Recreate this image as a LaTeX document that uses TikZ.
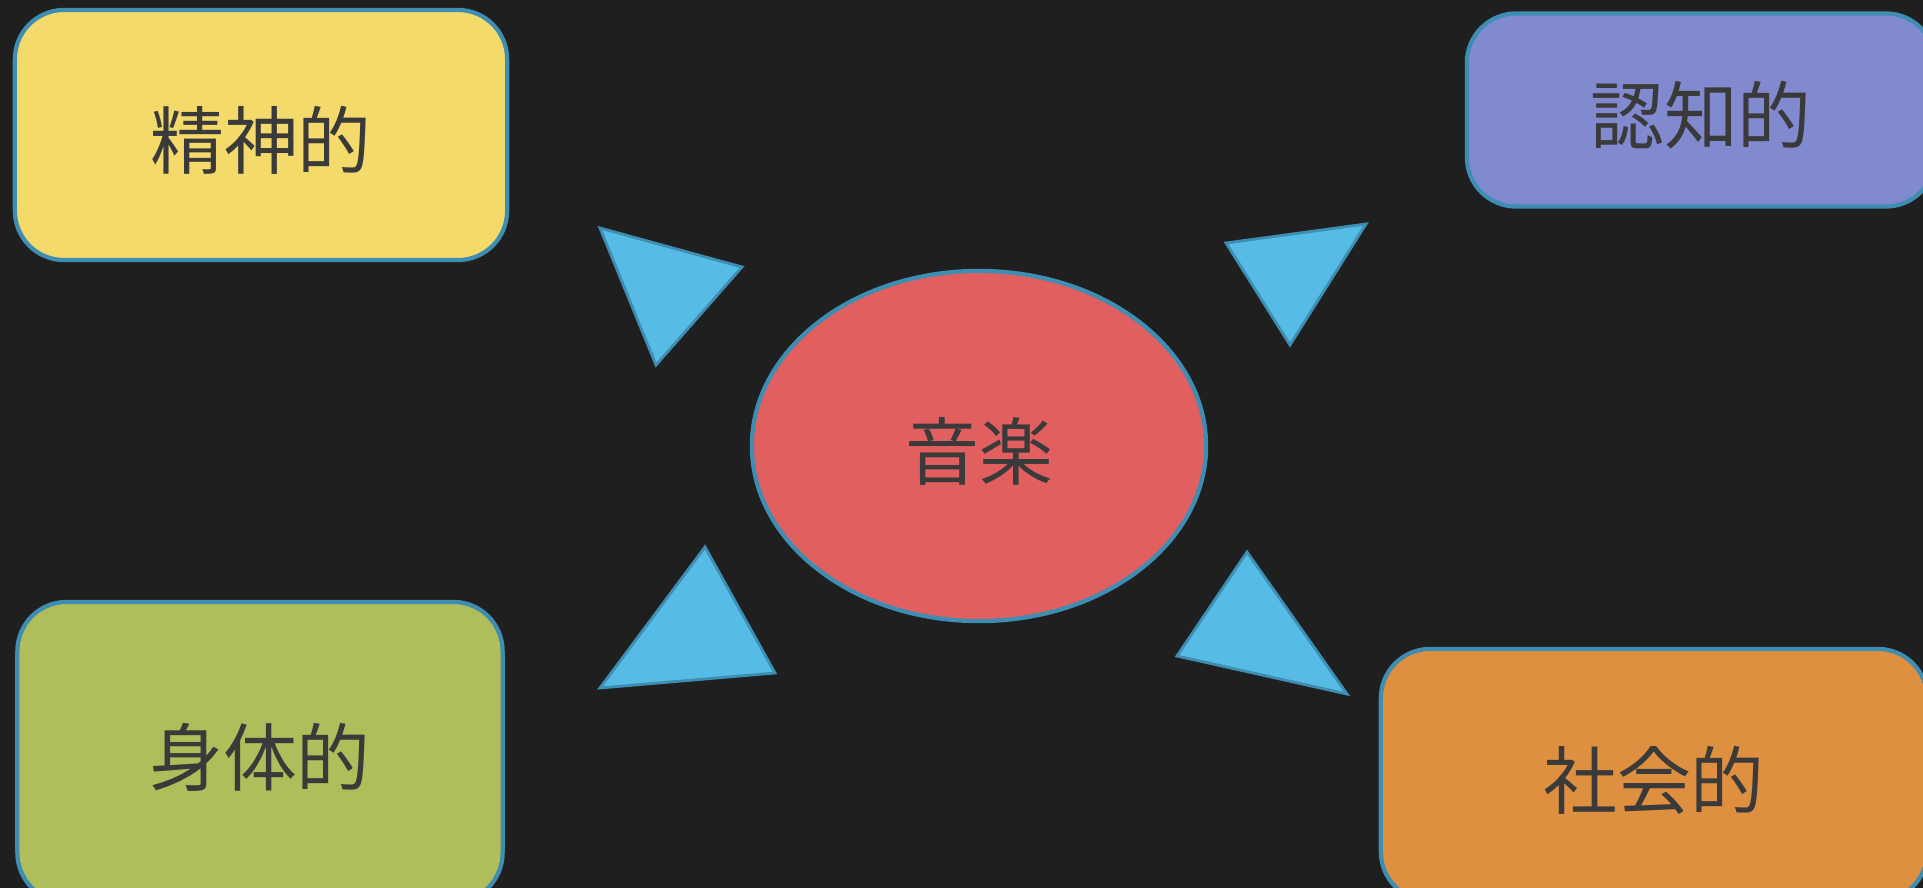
\documentclass[tikz,border=0pt]{standalone}
\usepackage{fontspec}
\setmainfont{Noto Sans CJK JP}
\usetikzlibrary{shapes.geometric}

\definecolor{board}{HTML}{1F1F1F}
\definecolor{edgeblue}{HTML}{3E8DB2}
\definecolor{tri}{HTML}{56BCE6}
\definecolor{ink}{HTML}{3A3A3A}
\definecolor{boxyellow}{HTML}{F4D96B}
\definecolor{boxpurple}{HTML}{8189CF}
\definecolor{boxgreen}{HTML}{AFBD5A}
\definecolor{boxorange}{HTML}{DF8F40}
\definecolor{centerred}{HTML}{E15F5F}

\tikzset{
  card/.style={draw=edgeblue, line width=1.2pt, rounded corners=14pt,
    text=ink, font=\fontsize{21}{21}\selectfont, inner sep=0pt,
    text height=22pt, text depth=3pt},
  pointer/.style={fill=tri, draw=edgeblue, line width=0.8pt, line join=miter}
}

\begin{document}
\begin{tikzpicture}[x=0.01cm, y=-0.01cm]
    % Board
    \fill[board] (0,0) rectangle (1923,888);
    \useasboundingbox (0,0) rectangle (1923,888);
    \clip (0,0) rectangle (1923,888);

    % Centre
    \node[ellipse, draw=edgeblue, line width=1.2pt, fill=centerred, text=ink,
      minimum width=4.54cm, minimum height=3.5cm, inner sep=0pt,
      text height=22pt, text depth=3pt,
      font=\fontsize{21}{21}\selectfont] (music) at (979,446) {音楽};

    % Four aspects
    \node[card, fill=boxyellow, minimum width=4.92cm, minimum height=2.5cm] (mental) at (261,135) {精神的};
    \node[card, fill=boxpurple, minimum width=4.68cm, minimum height=1.93cm] (cognitive) at (1701,110) {認知的};
    \node[card, fill=boxgreen, minimum width=4.85cm, minimum height=3cm] (physical) at (260,752) {身体的};
    \node[card, fill=boxorange, minimum width=5.46cm, minimum height=2.52cm] (social) at (1654,775) {社会的};

    % Pointers
    \draw[pointer] (600,228) -- (742,267) -- (656,365) -- cycle;
    \draw[pointer] (1226,243) -- (1366,224) -- (1290,345) -- cycle;
    \draw[pointer] (705,547) -- (775,673) -- (600,688) -- cycle;
    \draw[pointer] (1247,552) -- (1347,694) -- (1177,656) -- cycle;
\end{tikzpicture}
\end{document}
